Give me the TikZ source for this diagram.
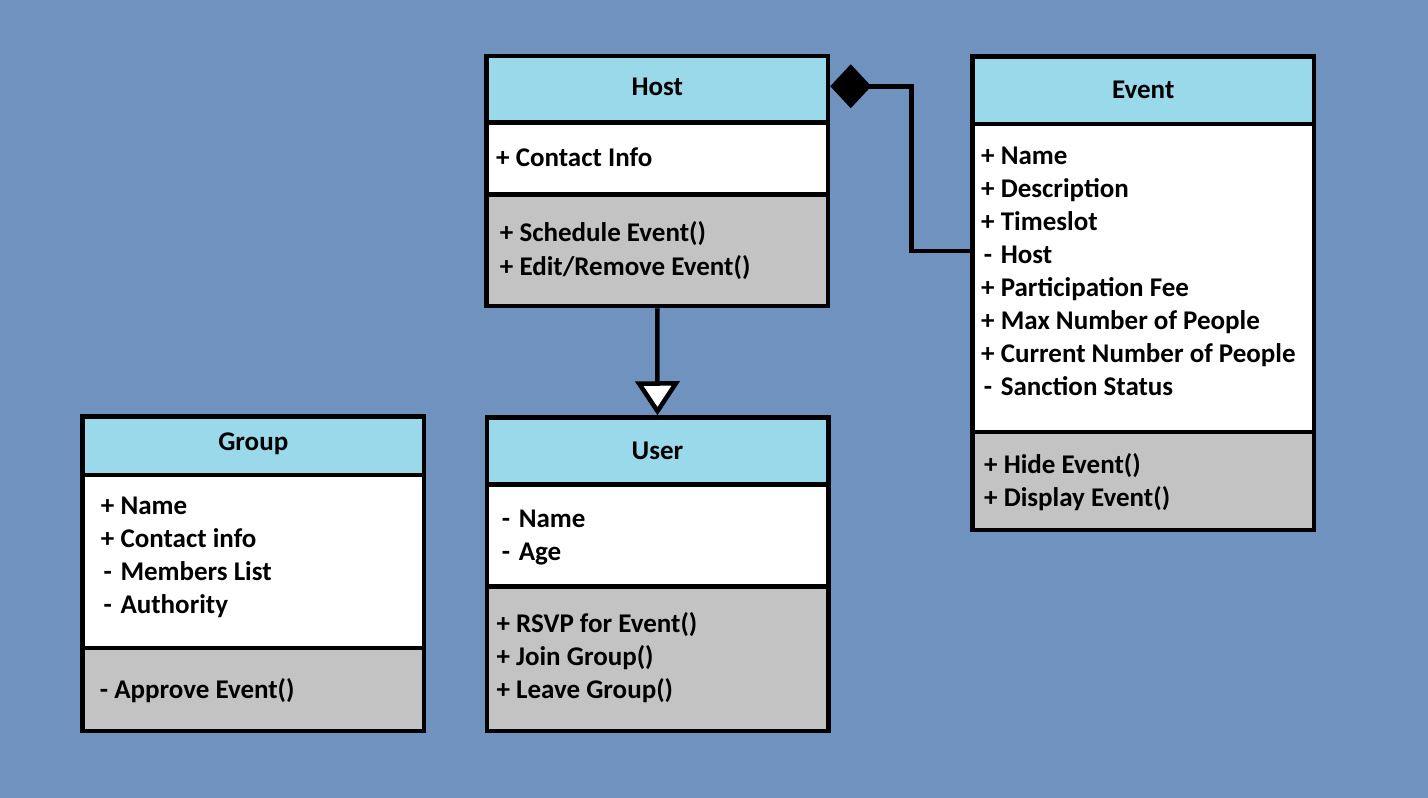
\documentclass[tikz,border=0pt]{standalone}
\usepackage{fontspec}
\setmainfont{Carlito}
\usetikzlibrary{arrows.meta}
\definecolor{bgblue}{RGB}{112,146,190}
\definecolor{headblue}{RGB}{153,217,234}
\definecolor{methgrey}{RGB}{195,195,195}
\newcommand{\vis}[1]{\makebox[13.5pt][c]{#1}\space}
\tikzset{
  box/.style={draw, line width=4.5pt, minimum width=341.5pt, inner sep=0pt},
  head/.style={box, fill=headblue, text height=17pt, text depth=0pt},
  attrs/.style={box, fill=white},
  meths/.style={box, fill=methgrey},
  item/.style={anchor=base west, inner sep=0pt},
  link/.style={line width=4.5pt}
}
\begin{document}
\begin{tikzpicture}[x=1pt, y=-1pt, font=\fontsize{27}{32}\selectfont\bfseries]
  \fill[bgblue] (0,0) rectangle (1428,798);
  \useasboundingbox (0,0) rectangle (1428,798);

  \node[head, text depth=4pt, minimum height=66.5pt] (Hhead) at (657.25,89.25) {Host};
  \node[attrs, minimum height=72pt] (Hattr) at (657.25,158.5) {};
  \node[meths, minimum height=111.5pt] (Hmeth) at (657.25,250.25) {};
  \node[item] (Ha1) at (496,166) {\vis{+}Contact Info};
  \node[item] (Hm1) at (499.7,241.7) {\vis{+}Schedule Event()};
  \node[item] (Hm2) at (499.7,275) {\vis{+}Edit/Remove Event()};

  \node[head, minimum height=67.5pt] (Ehead) at (1143.25,90.25) {Event};
  \node[attrs, minimum height=308pt] (Eattr) at (1143.25,278) {};
  \node[meths, minimum height=98pt] (Emeth) at (1143.25,481) {};
  \foreach \s/\t [count=\i from 0] in {+/Name, +/Description, +/Timeslot, -/Host,
      +/Participation Fee, +/Max Number of People, +/Current Number of People, -/Sanction Status}
    \node[item] (Ea\i) at (981,164.5+33*\i) {\vis{\s}\t};
  \node[item] (Em1) at (984,473.4) {\vis{+}Hide Event()};
  \node[item] (Em2) at (984,506.4) {\vis{+}Display Event()};

  \node[head, text depth=7.5pt, minimum height=58.5pt] (Ghead) at (253.25,445.75) {Group};
  \node[attrs, minimum height=173pt] (Gattr) at (253.25,561.5) {};
  \node[meths, minimum height=83pt] (Gmeth) at (253.25,689.5) {};
  \foreach \s/\t [count=\i from 0] in {+/Name, +/Contact info, -/Members List, -/Authority}
    \node[item] (Ga\i) at (100.7,514.4+33*\i) {\vis{\s}\t};
  \node[item] (Gm1) at (99.7,698.4) {- Approve Event()};

  \node[head, minimum height=67pt] (Uhead) at (657.5,451) {User};
  \node[attrs, minimum height=102pt] (Uattr) at (657.5,535.5) {};
  \node[meths, minimum height=144.5pt] (Umeth) at (657.5,658.75) {};
  \node[item] (Ua1) at (499,527) {\vis{-}Name};
  \node[item] (Ua2) at (499,560.5) {\vis{-}Age};
  \foreach \t [count=\i from 0] in {RSVP for Event(), Join Group(), Leave Group()}
    \node[item] (Um\i) at (496.3,632+33*\i) {\vis{+}\t};

  \draw[link, {Diamond[length=41pt, width=44pt]}-] ([yshift=3pt]Hhead.east) -- ++(81.25,0) |- ([yshift=27pt]Eattr.west);
  \draw[link, -{Triangle[length=34pt, width=44pt, fill=white]}] (Hmeth.south) -- (Uhead.north);
\end{tikzpicture}
\end{document}
